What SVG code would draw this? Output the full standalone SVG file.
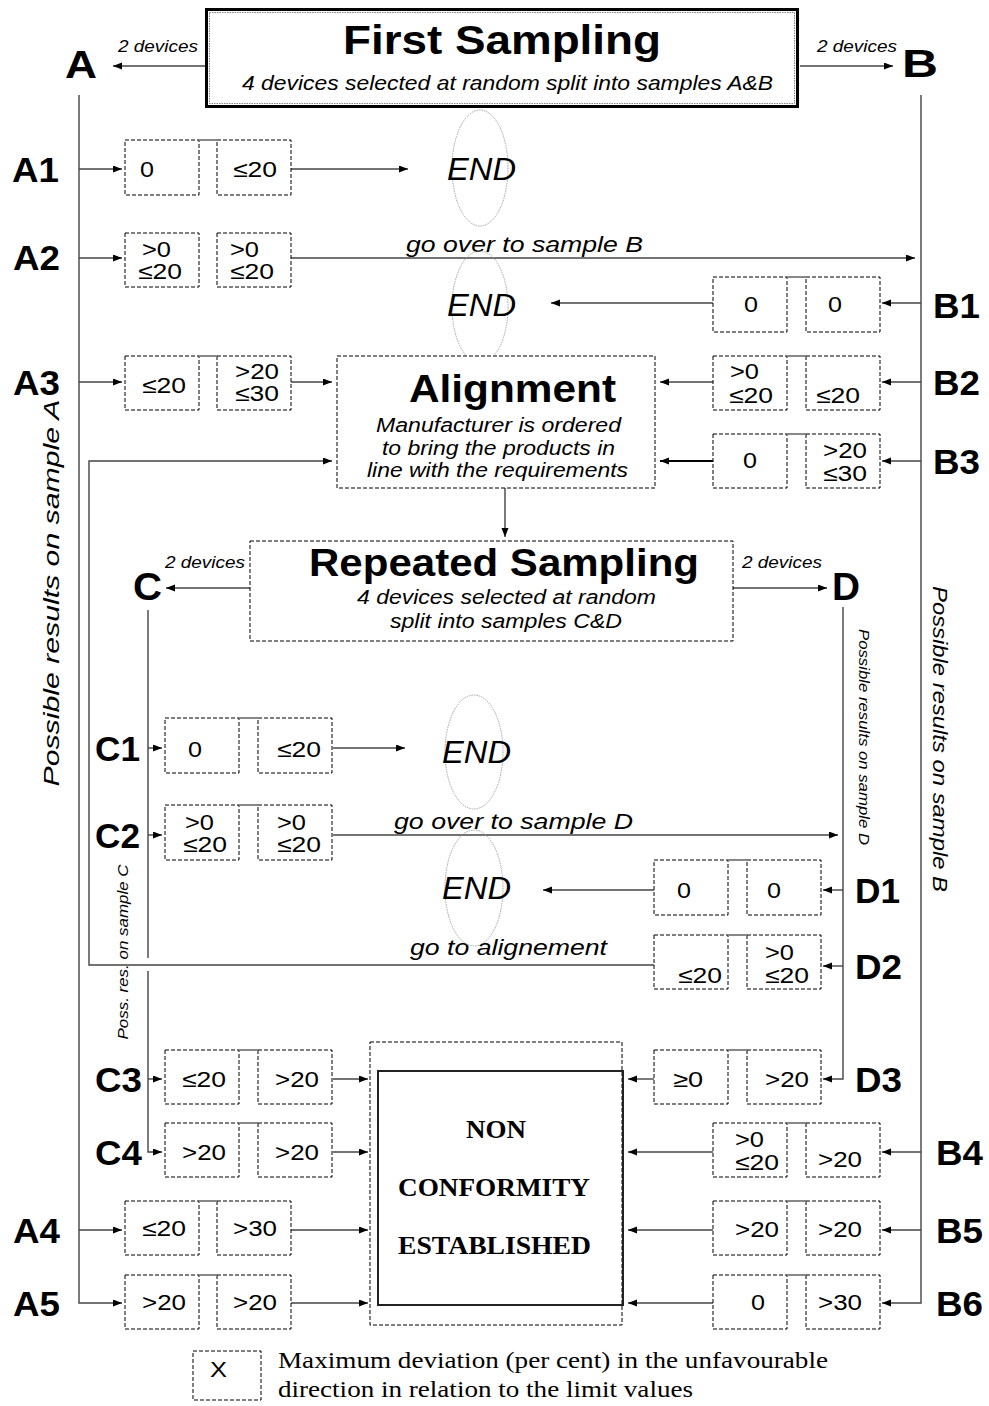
<svg xmlns="http://www.w3.org/2000/svg" width="989" height="1406" viewBox="0 0 989 1406">
<style>
.bx{fill:none;stroke:#000;stroke-width:1;stroke-dasharray:4 2}
.br{stroke:#888;stroke-width:2}
.v{font-family:"Liberation Sans",Arial,sans-serif;font-size:22px;fill:#000}
.lb{font-family:"Liberation Sans",Arial,sans-serif;font-size:35px;font-weight:bold;fill:#000}
.big{font-family:"Liberation Sans",Arial,sans-serif;font-size:39px;font-weight:bold;fill:#000}
.it{font-family:"Liberation Sans",Arial,sans-serif;font-style:italic;fill:#000}
.end{fill:none;stroke:#999;stroke-width:0.9;stroke-dasharray:1.5 1}
.tm{font-family:"Liberation Serif","Times New Roman",serif;fill:#000}
.c line,.c path{stroke:#444;stroke-width:1.4;fill:none}
.c .a{marker-end:url(#ah)}
</style>
<defs>
<marker id="ah" markerUnits="userSpaceOnUse" markerWidth="10" markerHeight="8" refX="9" refY="3.5" orient="auto">
<path d="M0,0 L9,3.5 L0,7 z" fill="#000"/>
</marker>
</defs>
<rect width="989" height="1406" fill="#fff"/>

<g id="connectors" class="c">
<line class="a" x1="205" y1="66" x2="113" y2="66"/>
<line class="a" x1="800" y1="66" x2="893" y2="66"/>
<path class="a" d="M79,95 V1303 H122"/>
<line class="a" x1="79" y1="169" x2="122" y2="169"/>
<line class="a" x1="79" y1="258" x2="122" y2="258"/>
<line class="a" x1="79" y1="382" x2="122" y2="382"/>
<line class="a" x1="79" y1="1230" x2="122" y2="1230"/>
<path class="a" d="M921,95 V1303 H882"/>
<line class="a" x1="921" y1="303" x2="882" y2="303"/>
<line class="a" x1="921" y1="382" x2="882" y2="382"/>
<line class="a" x1="921" y1="461" x2="882" y2="461"/>
<line class="a" x1="921" y1="1152" x2="882" y2="1152"/>
<line class="a" x1="921" y1="1230" x2="882" y2="1230"/>
<line class="a" x1="291" y1="169" x2="408" y2="169"/>
<line class="a" x1="291" y1="258" x2="915" y2="258"/>
<line class="a" x1="713" y1="303" x2="551" y2="303"/>
<line class="a" x1="291" y1="382" x2="332" y2="382"/>
<line class="a" x1="713" y1="382" x2="660" y2="382"/>
<line class="a" x1="713" y1="461" x2="660" y2="461" style="stroke-width:2.2;stroke:#000"/>
<line class="a" x1="505" y1="488" x2="505" y2="537"/>
<line class="a" x1="250" y1="588" x2="166" y2="588"/>
<line class="a" x1="733" y1="588" x2="827" y2="588"/>
<line x1="148" y1="610" x2="148" y2="958"/>
<path class="a" d="M148,971 V1152 H162"/>
<line class="a" x1="148" y1="748" x2="162" y2="748"/>
<line class="a" x1="148" y1="835" x2="162" y2="835"/>
<line class="a" x1="148" y1="1079" x2="162" y2="1079"/>
<path class="a" d="M843,607 V1079 H823"/>
<line class="a" x1="843" y1="890" x2="823" y2="890"/>
<line class="a" x1="843" y1="966" x2="823" y2="966"/>
<line class="a" x1="333" y1="748" x2="405" y2="748"/>
<line class="a" x1="333" y1="835" x2="838" y2="835"/>
<line class="a" x1="654" y1="890" x2="543" y2="890"/>
<path class="a" d="M654,965 H89 V461 H332"/>
<line class="a" x1="333" y1="1079" x2="368" y2="1079"/>
<line class="a" x1="333" y1="1152" x2="368" y2="1152"/>
<line class="a" x1="291" y1="1230" x2="368" y2="1230"/>
<line class="a" x1="291" y1="1303" x2="368" y2="1303"/>
<line class="a" x1="654" y1="1079" x2="628" y2="1079"/>
<line class="a" x1="713" y1="1152" x2="628" y2="1152"/>
<line class="a" x1="713" y1="1230" x2="628" y2="1230"/>
<line class="a" x1="713" y1="1303" x2="628" y2="1303"/>
<text class="it" x="118" y="52" font-size="17" textLength="80" lengthAdjust="spacingAndGlyphs">2 devices</text>
<text class="it" x="817" y="52" font-size="17" textLength="80" lengthAdjust="spacingAndGlyphs">2 devices</text>
<text class="it" x="165" y="568" font-size="17" textLength="80" lengthAdjust="spacingAndGlyphs">2 devices</text>
<text class="it" x="742" y="568" font-size="17" textLength="80" lengthAdjust="spacingAndGlyphs">2 devices</text>
<text class="it" x="406" y="252" font-size="22" textLength="237" lengthAdjust="spacingAndGlyphs">go over to sample B</text>
<text class="it" x="394" y="829" font-size="22" textLength="239" lengthAdjust="spacingAndGlyphs">go over to sample D</text>
<text class="it" x="410" y="955" font-size="22" textLength="197" lengthAdjust="spacingAndGlyphs">go to alignement</text>
</g>

<g id="first-sampling">
<rect x="206.5" y="9.5" width="591" height="97" fill="#fff" stroke="#000" stroke-width="3"/>
<rect x="209.5" y="12.5" width="585" height="91" fill="none" stroke="#666" stroke-width="0.8" stroke-dasharray="1.5 1"/>
<text x="343" y="54" font-family="Liberation Sans, Arial, sans-serif" font-weight="bold" font-size="41" textLength="318" lengthAdjust="spacingAndGlyphs">First Sampling</text>
<text class="it" x="242" y="90" font-size="21" textLength="531" lengthAdjust="spacingAndGlyphs">4 devices selected at random split into samples A&amp;B</text>
</g>

<g id="label-A"><text class="big" x="65" y="78" textLength="32" lengthAdjust="spacingAndGlyphs">A</text></g>
<g id="label-B"><text class="big" x="902" y="77" textLength="36" lengthAdjust="spacingAndGlyphs">B</text></g>
<g id="side-A"><text class="it" font-size="22" transform="translate(59,593) rotate(-90)" text-anchor="middle" textLength="387" lengthAdjust="spacingAndGlyphs">Possible results on sample A</text></g>
<g id="side-B"><text class="it" font-size="21" transform="translate(933,739) rotate(90)" text-anchor="middle" textLength="306" lengthAdjust="spacingAndGlyphs">Possible results on sample B</text></g>

<g id="row-A1">
<text class="lb" x="12" y="182" textLength="47" lengthAdjust="spacingAndGlyphs">A1</text>
<rect class="bx" x="125" y="140" width="74" height="55"/><rect class="bx" x="217" y="140" width="74" height="55"/>
<line class="br" x1="199" y1="140" x2="217" y2="140"/>
<text class="v" x="140" y="177" textLength="14" lengthAdjust="spacingAndGlyphs">0</text>
<text class="v" x="233" y="177" textLength="44" lengthAdjust="spacingAndGlyphs">≤20</text>
</g>
<g id="row-A2">
<text class="lb" x="13" y="270" textLength="47" lengthAdjust="spacingAndGlyphs">A2</text>
<rect class="bx" x="125" y="233" width="74" height="54"/><rect class="bx" x="217" y="233" width="74" height="54"/>
<text class="v" x="142" y="257" textLength="29" lengthAdjust="spacingAndGlyphs">&gt;0</text>
<text class="v" x="138" y="279" textLength="44" lengthAdjust="spacingAndGlyphs">≤20</text>
<text class="v" x="230" y="257" textLength="29" lengthAdjust="spacingAndGlyphs">&gt;0</text>
<text class="v" x="230" y="279" textLength="44" lengthAdjust="spacingAndGlyphs">≤20</text>
</g>
<g id="row-A3">
<text class="lb" x="13" y="395" textLength="47" lengthAdjust="spacingAndGlyphs">A3</text>
<rect class="bx" x="125" y="356" width="74" height="54"/><rect class="bx" x="217" y="356" width="74" height="54"/>
<line class="br" x1="199" y1="356" x2="217" y2="356"/>
<text class="v" x="142" y="393" textLength="44" lengthAdjust="spacingAndGlyphs">≤20</text>
<text class="v" x="235" y="379" textLength="44" lengthAdjust="spacingAndGlyphs">&gt;20</text>
<text class="v" x="235" y="401" textLength="44" lengthAdjust="spacingAndGlyphs">≤30</text>
</g>
<g id="row-A4">
<text class="lb" x="13" y="1243" textLength="47" lengthAdjust="spacingAndGlyphs">A4</text>
<rect class="bx" x="125" y="1201" width="74" height="54"/><rect class="bx" x="217" y="1201" width="74" height="54"/>
<line class="br" x1="199" y1="1201" x2="217" y2="1201"/>
<text class="v" x="142" y="1236" textLength="44" lengthAdjust="spacingAndGlyphs">≤20</text>
<text class="v" x="233" y="1236" textLength="44" lengthAdjust="spacingAndGlyphs">&gt;30</text>
</g>
<g id="row-A5">
<text class="lb" x="13" y="1316" textLength="47" lengthAdjust="spacingAndGlyphs">A5</text>
<rect class="bx" x="125" y="1275" width="74" height="54"/><rect class="bx" x="217" y="1275" width="74" height="54"/>
<line class="br" x1="199" y1="1275" x2="217" y2="1275"/>
<text class="v" x="142" y="1310" textLength="44" lengthAdjust="spacingAndGlyphs">&gt;20</text>
<text class="v" x="233" y="1310" textLength="44" lengthAdjust="spacingAndGlyphs">&gt;20</text>
</g>

<g id="row-B1">
<text class="lb" x="933" y="318" textLength="47" lengthAdjust="spacingAndGlyphs">B1</text>
<rect class="bx" x="713" y="277" width="74" height="55"/><rect class="bx" x="806" y="277" width="74" height="55"/>
<line class="br" x1="787" y1="277" x2="806" y2="277"/>
<text class="v" x="744" y="312" textLength="14" lengthAdjust="spacingAndGlyphs">0</text>
<text class="v" x="828" y="312" textLength="14" lengthAdjust="spacingAndGlyphs">0</text>
</g>
<g id="row-B2">
<text class="lb" x="933" y="395" textLength="47" lengthAdjust="spacingAndGlyphs">B2</text>
<rect class="bx" x="713" y="356" width="74" height="54"/><rect class="bx" x="806" y="356" width="74" height="54"/>
<line class="br" x1="787" y1="356" x2="806" y2="356"/>
<text class="v" x="730" y="379" textLength="29" lengthAdjust="spacingAndGlyphs">&gt;0</text>
<text class="v" x="729" y="403" textLength="44" lengthAdjust="spacingAndGlyphs">≤20</text>
<text class="v" x="816" y="403" textLength="44" lengthAdjust="spacingAndGlyphs">≤20</text>
</g>
<g id="row-B3">
<text class="lb" x="933" y="474" textLength="47" lengthAdjust="spacingAndGlyphs">B3</text>
<rect class="bx" x="713" y="434" width="74" height="54"/><rect class="bx" x="806" y="434" width="74" height="54"/>
<line class="br" x1="787" y1="434" x2="806" y2="434"/>
<text class="v" x="743" y="468" textLength="14" lengthAdjust="spacingAndGlyphs">0</text>
<text class="v" x="823" y="458" textLength="44" lengthAdjust="spacingAndGlyphs">&gt;20</text>
<text class="v" x="823" y="481" textLength="44" lengthAdjust="spacingAndGlyphs">≤30</text>
</g>
<g id="row-B4">
<text class="lb" x="936" y="1165" textLength="47" lengthAdjust="spacingAndGlyphs">B4</text>
<rect class="bx" x="713" y="1123" width="74" height="54"/><rect class="bx" x="806" y="1123" width="74" height="54"/>
<line class="br" x1="787" y1="1123" x2="806" y2="1123"/>
<text class="v" x="735" y="1147" textLength="29" lengthAdjust="spacingAndGlyphs">&gt;0</text>
<text class="v" x="735" y="1170" textLength="44" lengthAdjust="spacingAndGlyphs">≤20</text>
<text class="v" x="818" y="1167" textLength="44" lengthAdjust="spacingAndGlyphs">&gt;20</text>
</g>
<g id="row-B5">
<text class="lb" x="936" y="1243" textLength="47" lengthAdjust="spacingAndGlyphs">B5</text>
<rect class="bx" x="713" y="1201" width="74" height="54"/><rect class="bx" x="806" y="1201" width="74" height="54"/>
<line class="br" x1="787" y1="1201" x2="806" y2="1201"/>
<text class="v" x="735" y="1237" textLength="44" lengthAdjust="spacingAndGlyphs">&gt;20</text>
<text class="v" x="818" y="1237" textLength="44" lengthAdjust="spacingAndGlyphs">&gt;20</text>
</g>
<g id="row-B6">
<text class="lb" x="936" y="1316" textLength="47" lengthAdjust="spacingAndGlyphs">B6</text>
<rect class="bx" x="713" y="1275" width="74" height="54"/><rect class="bx" x="806" y="1275" width="74" height="54"/>
<line class="br" x1="787" y1="1275" x2="806" y2="1275"/>
<text class="v" x="751" y="1310" textLength="14" lengthAdjust="spacingAndGlyphs">0</text>
<text class="v" x="818" y="1310" textLength="44" lengthAdjust="spacingAndGlyphs">&gt;30</text>
</g>

<g id="end-1"><ellipse class="end" cx="480" cy="168" rx="28" ry="58"/><text class="it" x="447" y="180" font-size="32" textLength="69" lengthAdjust="spacingAndGlyphs">END</text></g>
<g id="end-2"><ellipse class="end" cx="480" cy="307" rx="28" ry="56"/><text class="it" x="447" y="316" font-size="32" textLength="69" lengthAdjust="spacingAndGlyphs">END</text></g>
<g id="end-3"><ellipse class="end" cx="474" cy="752" rx="29" ry="57"/><text class="it" x="442" y="763" font-size="32" textLength="69" lengthAdjust="spacingAndGlyphs">END</text></g>
<g id="end-4"><ellipse class="end" cx="474" cy="888" rx="29" ry="58"/><text class="it" x="442" y="899" font-size="32" textLength="69" lengthAdjust="spacingAndGlyphs">END</text></g>

<g id="alignment">
<rect class="bx" x="337" y="356" width="318" height="132" style="fill:#fff"/>
<text x="409" y="402" font-family="Liberation Sans, Arial, sans-serif" font-weight="bold" font-size="39" textLength="207" lengthAdjust="spacingAndGlyphs">Alignment</text>
<text class="it" x="376" y="432" font-size="20" textLength="245" lengthAdjust="spacingAndGlyphs">Manufacturer is ordered</text>
<text class="it" x="382" y="455" font-size="20" textLength="233" lengthAdjust="spacingAndGlyphs">to bring the products in</text>
<text class="it" x="367" y="477" font-size="20" textLength="261" lengthAdjust="spacingAndGlyphs">line with the requirements</text>
</g>

<g id="repeated-sampling">
<rect class="bx" x="250" y="541" width="483" height="100"/>
<text x="309" y="576" font-family="Liberation Sans, Arial, sans-serif" font-weight="bold" font-size="39" textLength="390" lengthAdjust="spacingAndGlyphs">Repeated Sampling</text>
<text class="it" x="357" y="604" font-size="20" textLength="299" lengthAdjust="spacingAndGlyphs">4 devices selected at random</text>
<text class="it" x="390" y="628" font-size="20" textLength="232" lengthAdjust="spacingAndGlyphs">split into samples C&amp;D</text>
</g>

<g id="label-C"><text class="big" x="133" y="600" textLength="29" lengthAdjust="spacingAndGlyphs">C</text></g>
<g id="label-D"><text class="big" x="832" y="600" textLength="28" lengthAdjust="spacingAndGlyphs">D</text></g>
<g id="side-C"><text class="it" font-size="15" transform="translate(128,952) rotate(-90)" text-anchor="middle" textLength="175" lengthAdjust="spacingAndGlyphs">Poss. res. on sample C</text></g>
<g id="side-D"><text class="it" font-size="15" transform="translate(859,737) rotate(90)" text-anchor="middle" textLength="216" lengthAdjust="spacingAndGlyphs">Possible results on sample D</text></g>

<g id="row-C1">
<text class="lb" x="95" y="761" textLength="45" lengthAdjust="spacingAndGlyphs">C1</text>
<rect class="bx" x="165" y="718" width="74" height="55"/><rect class="bx" x="258" y="718" width="74" height="55"/>
<line class="br" x1="239" y1="718" x2="258" y2="718"/>
<text class="v" x="188" y="757" textLength="14" lengthAdjust="spacingAndGlyphs">0</text>
<text class="v" x="277" y="757" textLength="44" lengthAdjust="spacingAndGlyphs">≤20</text>
</g>
<g id="row-C2">
<text class="lb" x="95" y="848" textLength="45" lengthAdjust="spacingAndGlyphs">C2</text>
<rect class="bx" x="165" y="805" width="74" height="55"/><rect class="bx" x="258" y="805" width="74" height="55"/>
<line class="br" x1="239" y1="805" x2="258" y2="805"/>
<text class="v" x="185" y="830" textLength="29" lengthAdjust="spacingAndGlyphs">&gt;0</text>
<text class="v" x="183" y="852" textLength="44" lengthAdjust="spacingAndGlyphs">≤20</text>
<text class="v" x="277" y="830" textLength="29" lengthAdjust="spacingAndGlyphs">&gt;0</text>
<text class="v" x="277" y="852" textLength="44" lengthAdjust="spacingAndGlyphs">≤20</text>
</g>
<g id="row-C3">
<text class="lb" x="95" y="1092" textLength="47" lengthAdjust="spacingAndGlyphs">C3</text>
<rect class="bx" x="165" y="1050" width="74" height="54"/><rect class="bx" x="258" y="1050" width="74" height="54"/>
<line class="br" x1="239" y1="1050" x2="258" y2="1050"/>
<text class="v" x="182" y="1087" textLength="44" lengthAdjust="spacingAndGlyphs">≤20</text>
<text class="v" x="275" y="1087" textLength="44" lengthAdjust="spacingAndGlyphs">&gt;20</text>
</g>
<g id="row-C4">
<text class="lb" x="95" y="1165" textLength="47" lengthAdjust="spacingAndGlyphs">C4</text>
<rect class="bx" x="165" y="1123" width="74" height="54"/><rect class="bx" x="258" y="1123" width="74" height="54"/>
<line class="br" x1="239" y1="1123" x2="258" y2="1123"/>
<text class="v" x="182" y="1160" textLength="44" lengthAdjust="spacingAndGlyphs">&gt;20</text>
<text class="v" x="275" y="1160" textLength="44" lengthAdjust="spacingAndGlyphs">&gt;20</text>
</g>

<g id="row-D1">
<text class="lb" x="855" y="903" textLength="45" lengthAdjust="spacingAndGlyphs">D1</text>
<rect class="bx" x="654" y="860" width="74" height="55"/><rect class="bx" x="747" y="860" width="74" height="55"/>
<line class="br" x1="728" y1="860" x2="747" y2="860"/>
<text class="v" x="677" y="898" textLength="14" lengthAdjust="spacingAndGlyphs">0</text>
<text class="v" x="767" y="898" textLength="14" lengthAdjust="spacingAndGlyphs">0</text>
</g>
<g id="row-D2">
<text class="lb" x="855" y="979" textLength="47" lengthAdjust="spacingAndGlyphs">D2</text>
<rect class="bx" x="654" y="935" width="74" height="54"/><rect class="bx" x="747" y="935" width="74" height="54"/>
<line class="br" x1="728" y1="935" x2="747" y2="935"/>
<text class="v" x="678" y="983" textLength="44" lengthAdjust="spacingAndGlyphs">≤20</text>
<text class="v" x="765" y="960" textLength="29" lengthAdjust="spacingAndGlyphs">&gt;0</text>
<text class="v" x="765" y="983" textLength="44" lengthAdjust="spacingAndGlyphs">≤20</text>
</g>
<g id="row-D3">
<text class="lb" x="855" y="1092" textLength="47" lengthAdjust="spacingAndGlyphs">D3</text>
<rect class="bx" x="654" y="1050" width="74" height="54"/><rect class="bx" x="747" y="1050" width="74" height="54"/>
<line class="br" x1="728" y1="1050" x2="747" y2="1050"/>
<text class="v" x="673" y="1087" textLength="30" lengthAdjust="spacingAndGlyphs">≥0</text>
<text class="v" x="765" y="1087" textLength="44" lengthAdjust="spacingAndGlyphs">&gt;20</text>
</g>

<g id="non-conformity">
<rect class="bx" x="370" y="1042" width="252" height="283"/>
<rect x="378" y="1071" width="245" height="234" fill="none" stroke="#222" stroke-width="2"/>
<text class="tm" x="466" y="1138" font-size="26" font-weight="bold" textLength="60" lengthAdjust="spacingAndGlyphs">NON</text>
<text class="tm" x="398" y="1196" font-size="26" font-weight="bold" textLength="192" lengthAdjust="spacingAndGlyphs">CONFORMITY</text>
<text class="tm" x="398" y="1254" font-size="26" font-weight="bold" textLength="193" lengthAdjust="spacingAndGlyphs">ESTABLISHED</text>
</g>

<g id="legend">
<rect class="bx" x="193" y="1351" width="68" height="49"/>
<text class="v" x="210" y="1377" font-size="20" textLength="17" lengthAdjust="spacingAndGlyphs">X</text>
<text class="tm" x="278" y="1368" font-size="23" textLength="550" lengthAdjust="spacingAndGlyphs">Maximum deviation (per cent) in the unfavourable</text>
<text class="tm" x="278" y="1397" font-size="23" textLength="415" lengthAdjust="spacingAndGlyphs">direction in relation to the limit values</text>
</g>
</svg>
